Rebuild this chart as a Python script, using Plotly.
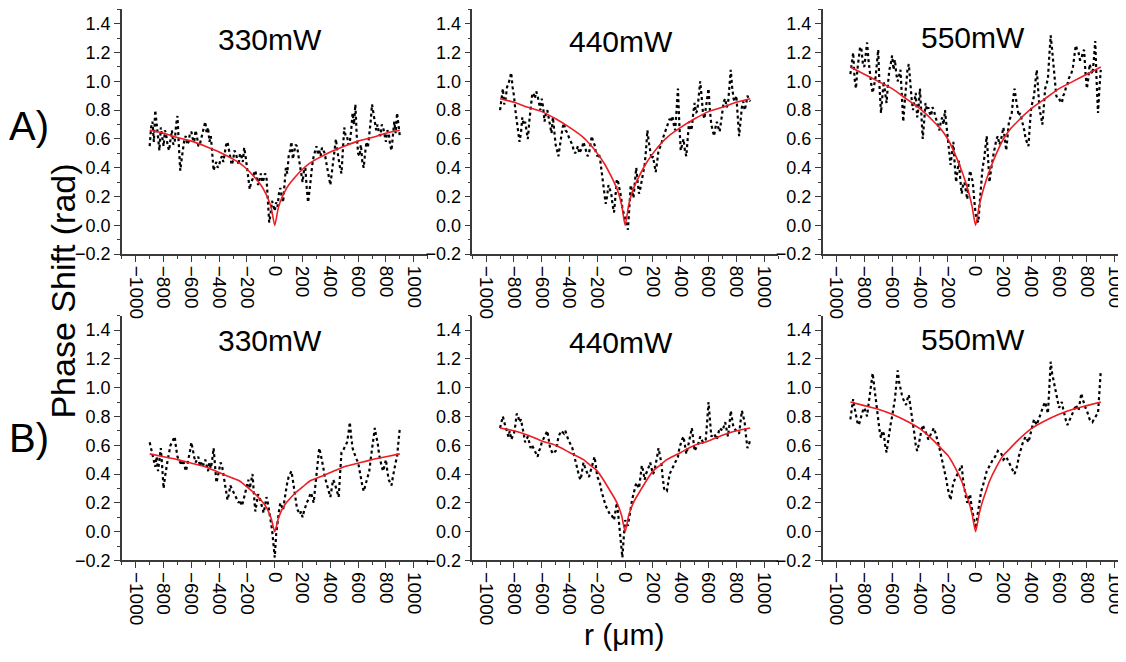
import plotly.graph_objects as go

# ---------------- data ----------------
r_data = list(range(-900, 901, 10))

a330 = [0.55, 0.68, 0.72, 0.58, 0.80, 0.70, 0.62, 0.52, 0.68, 0.60, 0.55, 0.66, 0.62, 0.55, 0.52, 0.60, 0.66, 0.56, 0.58, 0.70,
        0.76, 0.55, 0.38, 0.46, 0.55, 0.60, 0.62, 0.56, 0.58, 0.64, 0.65, 0.60, 0.58, 0.66, 0.62, 0.55, 0.56, 0.60, 0.64, 0.68,
        0.72, 0.64, 0.68, 0.58, 0.62, 0.50, 0.38, 0.42, 0.44, 0.40, 0.42, 0.46, 0.48, 0.44, 0.52, 0.56, 0.58, 0.52, 0.48, 0.42,
        0.45, 0.52, 0.50, 0.46, 0.42, 0.50, 0.48, 0.44, 0.54, 0.48, 0.40, 0.34, 0.25, 0.30, 0.32, 0.36, 0.38, 0.33, 0.28, 0.32,
        0.36, 0.30, 0.32, 0.36, 0.34, 0.18, 0.02, 0.08, 0.17, 0.14, 0.10, 0.16, 0.13, 0.22, 0.26, 0.20, 0.16, 0.28, 0.40, 0.36,
        0.48, 0.52, 0.58, 0.46, 0.50, 0.56, 0.55, 0.48, 0.42, 0.36, 0.30, 0.38, 0.40, 0.26, 0.16, 0.24, 0.34, 0.42, 0.48, 0.52,
        0.55, 0.50, 0.52, 0.48, 0.54, 0.52, 0.50, 0.44, 0.38, 0.32, 0.28, 0.36, 0.45, 0.52, 0.60, 0.52, 0.45, 0.40, 0.36, 0.55,
        0.68, 0.62, 0.62, 0.56, 0.58, 0.66, 0.78, 0.70, 0.84, 0.62, 0.50, 0.48, 0.56, 0.44, 0.40, 0.50, 0.58, 0.54, 0.62, 0.72,
        0.84, 0.78, 0.72, 0.66, 0.70, 0.64, 0.62, 0.70, 0.68, 0.62, 0.58, 0.66, 0.64, 0.56, 0.52, 0.62, 0.72, 0.64, 0.78, 0.70,
        0.62]
a440 = [0.80, 0.90, 0.95, 0.84, 0.88, 0.96, 0.98, 1.02, 1.06, 0.96, 0.90, 0.80, 0.72, 0.66, 0.58, 0.64, 0.75, 0.70, 0.72, 0.66,
        0.60, 0.72, 0.82, 0.90, 0.92, 0.88, 0.93, 0.90, 0.85, 0.80, 0.88, 0.82, 0.72, 0.78, 0.80, 0.74, 0.70, 0.64, 0.75, 0.66,
        0.56, 0.52, 0.48, 0.55, 0.62, 0.68, 0.71, 0.66, 0.65, 0.62, 0.60, 0.58, 0.56, 0.52, 0.50, 0.52, 0.55, 0.50, 0.52, 0.54,
        0.58, 0.54, 0.50, 0.48, 0.50, 0.56, 0.62, 0.58, 0.56, 0.50, 0.48, 0.50, 0.46, 0.38, 0.30, 0.22, 0.15, 0.20, 0.28, 0.25,
        0.22, 0.14, 0.09, 0.20, 0.32, 0.30, 0.26, 0.20, 0.12, 0.08, 0.05, 0.02, -0.03, 0.12, 0.28, 0.24, 0.19, 0.30, 0.40, 0.30,
        0.22, 0.26, 0.32, 0.38, 0.42, 0.52, 0.66, 0.58, 0.50, 0.46, 0.48, 0.42, 0.37, 0.44, 0.52, 0.54, 0.56, 0.60, 0.63, 0.66,
        0.68, 0.72, 0.74, 0.72, 0.76, 0.70, 0.66, 0.80, 0.95, 0.70, 0.52, 0.56, 0.60, 0.52, 0.48, 0.60, 0.72, 0.66, 0.68, 0.78,
        0.85, 0.78, 0.80, 0.90, 1.00, 0.90, 0.78, 0.74, 0.82, 0.90, 0.95, 0.80, 0.70, 0.66, 0.62, 0.68, 0.72, 0.68, 0.65, 0.72,
        0.80, 0.86, 0.88, 0.82, 0.84, 0.95, 1.08, 0.96, 0.88, 0.86, 0.90, 0.76, 0.62, 0.72, 0.82, 0.86, 0.80, 0.84, 0.90, 0.88,
        0.86]
a550 = [1.05, 1.15, 1.20, 1.02, 0.95, 1.08, 1.15, 1.24, 1.22, 1.12, 1.10, 1.18, 1.27, 1.15, 1.05, 0.98, 0.92, 0.96, 1.02, 1.12,
        1.22, 0.95, 0.78, 0.90, 1.00, 0.92, 0.85, 0.98, 1.08, 1.12, 1.18, 1.08, 1.15, 1.05, 1.00, 1.04, 1.08, 0.90, 0.72, 0.85,
        1.00, 1.08, 1.12, 0.98, 0.88, 0.80, 0.85, 0.92, 0.75, 0.82, 0.95, 0.78, 0.60, 0.72, 0.85, 0.80, 0.82, 0.78, 0.76, 0.82,
        0.80, 0.76, 0.72, 0.70, 0.66, 0.72, 0.75, 0.70, 0.80, 0.70, 0.62, 0.52, 0.42, 0.50, 0.58, 0.42, 0.30, 0.38, 0.45, 0.32,
        0.22, 0.28, 0.30, 0.24, 0.18, 0.30, 0.38, 0.34, 0.30, 0.18, 0.08, 0.04, 0.02, 0.16, 0.30, 0.40, 0.45, 0.55, 0.62, 0.46,
        0.30, 0.38, 0.45, 0.50, 0.55, 0.60, 0.62, 0.56, 0.58, 0.64, 0.68, 0.60, 0.52, 0.62, 0.72, 0.75, 0.78, 0.88, 0.95, 0.88,
        0.82, 0.76, 0.78, 0.74, 0.72, 0.66, 0.60, 0.58, 0.55, 0.70, 0.82, 0.86, 0.90, 1.00, 1.08, 0.94, 0.80, 0.76, 0.70, 0.82,
        0.95, 0.98, 1.02, 1.18, 1.32, 1.22, 1.12, 1.00, 0.90, 0.88, 0.88, 0.86, 0.85, 0.90, 0.92, 0.96, 0.98, 1.02, 1.04, 1.06,
        1.10, 1.18, 1.25, 1.22, 1.20, 1.15, 1.15, 1.20, 1.22, 1.06, 0.95, 1.02, 1.12, 1.08, 1.05, 1.15, 1.28, 1.00, 0.78, 0.95,
        1.08]
b330 = [0.62, 0.58, 0.55, 0.50, 0.45, 0.52, 0.42, 0.50, 0.58, 0.45, 0.30, 0.38, 0.45, 0.50, 0.55, 0.60, 0.62, 0.64, 0.66, 0.58,
        0.52, 0.50, 0.48, 0.46, 0.50, 0.46, 0.42, 0.46, 0.50, 0.56, 0.62, 0.56, 0.52, 0.48, 0.50, 0.52, 0.46, 0.48, 0.45, 0.48,
        0.50, 0.46, 0.42, 0.48, 0.44, 0.50, 0.58, 0.46, 0.34, 0.38, 0.42, 0.48, 0.46, 0.40, 0.34, 0.28, 0.22, 0.26, 0.32, 0.30,
        0.28, 0.26, 0.25, 0.22, 0.20, 0.22, 0.18, 0.20, 0.24, 0.28, 0.32, 0.36, 0.30, 0.34, 0.40, 0.26, 0.14, 0.20, 0.26, 0.24,
        0.20, 0.16, 0.13, 0.18, 0.24, 0.20, 0.15, 0.08, 0.02, -0.08, -0.18, -0.02, 0.08, 0.14, 0.20, 0.18, 0.15, 0.22, 0.30, 0.34,
        0.38, 0.40, 0.42, 0.36, 0.28, 0.22, 0.16, 0.14, 0.12, 0.14, 0.10, 0.14, 0.18, 0.20, 0.22, 0.25, 0.27, 0.24, 0.20, 0.30,
        0.40, 0.50, 0.58, 0.54, 0.50, 0.44, 0.38, 0.34, 0.30, 0.28, 0.24, 0.30, 0.36, 0.34, 0.30, 0.26, 0.24, 0.40, 0.55, 0.56,
        0.58, 0.60, 0.62, 0.68, 0.76, 0.66, 0.58, 0.55, 0.52, 0.50, 0.48, 0.42, 0.38, 0.32, 0.28, 0.32, 0.36, 0.38, 0.42, 0.50,
        0.58, 0.66, 0.72, 0.66, 0.62, 0.54, 0.48, 0.45, 0.42, 0.46, 0.50, 0.42, 0.36, 0.34, 0.32, 0.38, 0.44, 0.48, 0.52, 0.62,
        0.72]
b440 = [0.72, 0.76, 0.80, 0.76, 0.72, 0.68, 0.66, 0.70, 0.64, 0.66, 0.68, 0.74, 0.82, 0.80, 0.76, 0.78, 0.74, 0.68, 0.62, 0.64,
        0.66, 0.62, 0.58, 0.60, 0.58, 0.56, 0.54, 0.52, 0.56, 0.58, 0.62, 0.64, 0.66, 0.68, 0.70, 0.64, 0.58, 0.56, 0.54, 0.55,
        0.56, 0.60, 0.66, 0.68, 0.70, 0.69, 0.68, 0.70, 0.66, 0.64, 0.62, 0.60, 0.58, 0.54, 0.50, 0.45, 0.40, 0.38, 0.36, 0.42,
        0.48, 0.45, 0.42, 0.40, 0.38, 0.42, 0.45, 0.48, 0.52, 0.45, 0.38, 0.36, 0.33, 0.28, 0.24, 0.20, 0.18, 0.16, 0.14, 0.12,
        0.12, 0.10, 0.08, 0.14, 0.20, 0.12, 0.02, -0.08, -0.18, -0.04, 0.08, 0.06, 0.04, 0.10, 0.18, 0.22, 0.26, 0.30, 0.34, 0.32,
        0.30, 0.38, 0.46, 0.42, 0.36, 0.40, 0.42, 0.45, 0.48, 0.44, 0.40, 0.42, 0.46, 0.52, 0.58, 0.54, 0.48, 0.38, 0.30, 0.28,
        0.28, 0.34, 0.40, 0.42, 0.44, 0.46, 0.48, 0.50, 0.52, 0.58, 0.62, 0.64, 0.66, 0.60, 0.54, 0.58, 0.62, 0.66, 0.72, 0.64,
        0.56, 0.58, 0.60, 0.62, 0.66, 0.64, 0.62, 0.63, 0.64, 0.76, 0.90, 0.78, 0.66, 0.67, 0.68, 0.66, 0.64, 0.68, 0.72, 0.71,
        0.70, 0.73, 0.76, 0.71, 0.66, 0.74, 0.84, 0.78, 0.72, 0.71, 0.70, 0.69, 0.68, 0.76, 0.84, 0.80, 0.76, 0.66, 0.58, 0.60,
        0.64]
b550 = [0.78, 0.85, 0.92, 0.86, 0.80, 0.76, 0.74, 0.78, 0.82, 0.84, 0.86, 0.82, 0.80, 0.88, 0.95, 1.02, 1.10, 1.02, 0.95, 0.86,
        0.78, 0.70, 0.65, 0.70, 0.68, 0.60, 0.55, 0.62, 0.70, 0.75, 0.80, 0.86, 0.92, 1.02, 1.12, 1.04, 0.98, 0.95, 0.92, 0.90,
        0.88, 0.92, 0.95, 0.88, 0.82, 0.75, 0.68, 0.60, 0.56, 0.60, 0.66, 0.70, 0.74, 0.72, 0.70, 0.67, 0.64, 0.66, 0.68, 0.70,
        0.72, 0.69, 0.66, 0.62, 0.58, 0.54, 0.50, 0.46, 0.42, 0.36, 0.30, 0.26, 0.22, 0.28, 0.34, 0.36, 0.38, 0.40, 0.42, 0.44,
        0.46, 0.36, 0.28, 0.24, 0.20, 0.23, 0.26, 0.18, 0.12, 0.07, 0.02, 0.09, 0.16, 0.22, 0.28, 0.31, 0.34, 0.38, 0.42, 0.44,
        0.46, 0.48, 0.50, 0.51, 0.52, 0.54, 0.56, 0.55, 0.55, 0.53, 0.50, 0.51, 0.52, 0.50, 0.48, 0.46, 0.45, 0.42, 0.40, 0.43,
        0.46, 0.52, 0.56, 0.59, 0.62, 0.64, 0.66, 0.64, 0.62, 0.66, 0.70, 0.74, 0.78, 0.76, 0.74, 0.77, 0.80, 0.83, 0.86, 0.88,
        0.90, 0.86, 0.82, 1.00, 1.18, 1.10, 1.05, 1.00, 0.95, 0.90, 0.86, 0.88, 0.90, 0.85, 0.80, 0.77, 0.74, 0.76, 0.78, 0.80,
        0.82, 0.85, 0.88, 0.86, 0.84, 0.90, 0.96, 0.92, 0.88, 0.86, 0.84, 0.81, 0.78, 0.77, 0.76, 0.78, 0.80, 0.81, 0.82, 0.95,
        1.12]

r_fit = [-900, -800, -700, -600, -500, -400, -300, -250, -200, -150, -100, -75, -50, -25,
         0, 25, 50, 75, 100, 150, 200, 250, 300, 400, 500, 600, 700, 800, 900]
fa330 = [0.66, 0.64, 0.61, 0.585, 0.55, 0.51, 0.46, 0.43, 0.39, 0.34, 0.28, 0.24, 0.19, 0.12,
         0.0, 0.12, 0.19, 0.24, 0.28, 0.34, 0.39, 0.43, 0.46, 0.51, 0.55, 0.585, 0.61, 0.64, 0.66]
fa440 = [0.88, 0.855, 0.82, 0.79, 0.74, 0.68, 0.61, 0.56, 0.50, 0.43, 0.34, 0.29, 0.23, 0.14,
         0.0, 0.14, 0.23, 0.29, 0.34, 0.43, 0.50, 0.56, 0.61, 0.68, 0.74, 0.79, 0.82, 0.855, 0.88]
fa550 = [1.10, 1.05, 1.00, 0.95, 0.88, 0.81, 0.72, 0.67, 0.60, 0.50, 0.38, 0.31, 0.23, 0.13,
         0.0, 0.13, 0.23, 0.31, 0.38, 0.50, 0.60, 0.67, 0.72, 0.81, 0.88, 0.95, 1.00, 1.05, 1.10]
fb330 = [0.54, 0.52, 0.50, 0.475, 0.45, 0.41, 0.37, 0.35, 0.31, 0.27, 0.22, 0.19, 0.15, 0.09,
         0.0, 0.09, 0.15, 0.19, 0.22, 0.27, 0.31, 0.35, 0.37, 0.41, 0.45, 0.475, 0.50, 0.52, 0.54]
fb440 = [0.72, 0.70, 0.67, 0.63, 0.60, 0.55, 0.50, 0.46, 0.42, 0.35, 0.27, 0.23, 0.18, 0.11,
         0.0, 0.11, 0.18, 0.23, 0.27, 0.35, 0.42, 0.46, 0.50, 0.55, 0.60, 0.63, 0.67, 0.70, 0.72]
fb550 = [0.90, 0.875, 0.85, 0.815, 0.77, 0.715, 0.63, 0.58, 0.53, 0.45, 0.35, 0.28, 0.21, 0.12,
         0.0, 0.12, 0.21, 0.28, 0.35, 0.45, 0.53, 0.58, 0.63, 0.715, 0.77, 0.815, 0.85, 0.875, 0.90]

titles = ["330mW", "440mW", "550mW", "330mW", "440mW", "550mW"]
row_labels = ["A)", "B)"]
y_title = "Phase Shift (rad)"
x_title = "r (\u03bcm)"
ytick_vals = [-0.2, 0.0, 0.2, 0.4, 0.6, 0.8, 1.0, 1.2, 1.4]
xtick_vals = [-1000, -800, -600, -400, -200, 0, 200, 400, 600, 800, 1000]

# ---------------- figure ----------------
# The page body has an 8px margin, so the figure is drawn 8px in from the
# top-left corner of the window; all target pixel positions are shifted.
OX, OY = 8, 8
W, H = 1126 - OX, 662 - OY
FONT = "Liberation Sans, Arial, sans-serif"
AX = "#3a3a3a"


def px(xp):
    return (xp - OX) / W


def py(yp):
    return 1 - (yp - OY) / H


data_sets = [a330, a440, a550, b330, b440, b550]
fit_sets = [fa330, fa440, fa550, fb330, fb440, fb550]

x_dom_px = [(122, 428), (472.7, 778.7), (823.3, 1126)]
x_ranges = [[-1100, 1100], [-1100, 1100], [-1100, 1074]]
y_dom_px = [(9.4, 258), (320.4, 569)]
title_px = [(270, 40), (622, 42), (974, 38), (270, 346), (622, 348), (974, 345)]

fig = go.Figure()
layout = dict(width=W, height=H, margin=dict(l=0, r=0, t=0, b=0),
              paper_bgcolor="white", plot_bgcolor="white", showlegend=False,
              font=dict(family=FONT, color="black"))
annotations = []

for i in range(6):
    row, col = divmod(i, 3)
    n = i + 1
    xa = "x" if n == 1 else f"x{n}"
    ya = "y" if n == 1 else f"y{n}"
    fig.add_trace(go.Scatter(x=r_data, y=data_sets[i], mode="lines",
                             line=dict(color="black", width=2.2, dash="dot"),
                             xaxis=xa, yaxis=ya))
    fig.add_trace(go.Scatter(x=r_fit, y=fit_sets[i], mode="lines",
                             line=dict(color="#ee1c24", width=1.6, shape="spline", smoothing=0.6),
                             xaxis=xa, yaxis=ya))
    x0, x1 = x_dom_px[col]
    y0, y1 = y_dom_px[row]
    xkey = "xaxis" if n == 1 else f"xaxis{n}"
    ykey = "yaxis" if n == 1 else f"yaxis{n}"
    layout[xkey] = dict(domain=[max(px(x0), 0.0), min(px(x1), 1.0)], range=x_ranges[col],
                        anchor=ya, showgrid=False, zeroline=False,
                        showline=True, linecolor=AX, linewidth=1.5,
                        ticks="outside", ticklen=6, tickwidth=1.2, tickcolor=AX,
                        tickvals=xtick_vals, tickangle=90, ticklabeloverflow="allow",
                        tickfont=dict(size=19, family=FONT, color="black"),
                        minor=dict(dtick=100, tick0=0, ticks="outside", ticklen=3, tickcolor=AX),
                        fixedrange=True)
    layout[ykey] = dict(domain=[py(y1), py(y0)], range=[-0.2, 1.5],
                        anchor=xa, showgrid=False, zeroline=False,
                        showline=True, linecolor=AX, linewidth=1.5,
                        ticks="outside", ticklen=6, tickwidth=1.2, tickcolor=AX,
                        tickvals=ytick_vals, tickformat=".1f",
                        tickfont=dict(size=18, family=FONT, color="black"),
                        minor=dict(dtick=0.1, tick0=0, ticks="outside", ticklen=3, tickcolor=AX),
                        fixedrange=True)
    tx, ty = title_px[i]
    annotations.append(dict(text=titles[i], x=px(tx), y=py(ty), xref="paper", yref="paper",
                            showarrow=False, xanchor="center", yanchor="middle",
                            font=dict(size=30, family=FONT, color="black")))

annotations.append(dict(text=row_labels[0], x=px(29), y=py(128), xref="paper", yref="paper",
                        showarrow=False, xanchor="center", yanchor="middle",
                        font=dict(size=40, family=FONT, color="black")))
annotations.append(dict(text=row_labels[1], x=px(29), y=py(445), xref="paper", yref="paper",
                        showarrow=False, xanchor="center", yanchor="middle",
                        font=dict(size=40, family=FONT, color="black")))
annotations.append(dict(text=y_title, x=px(63), y=py(295), xref="paper", yref="paper",
                        showarrow=False, xanchor="center", yanchor="middle", textangle=-90,
                        font=dict(size=34, family=FONT, color="black")))
annotations.append(dict(text=x_title, x=px(625), y=py(644), xref="paper", yref="paper",
                        showarrow=False, xanchor="center", yanchor="middle",
                        font=dict(size=30, family=FONT, color="black")))
layout["annotations"] = annotations
fig.update_layout(**layout)
fig.write_html("out.html")
